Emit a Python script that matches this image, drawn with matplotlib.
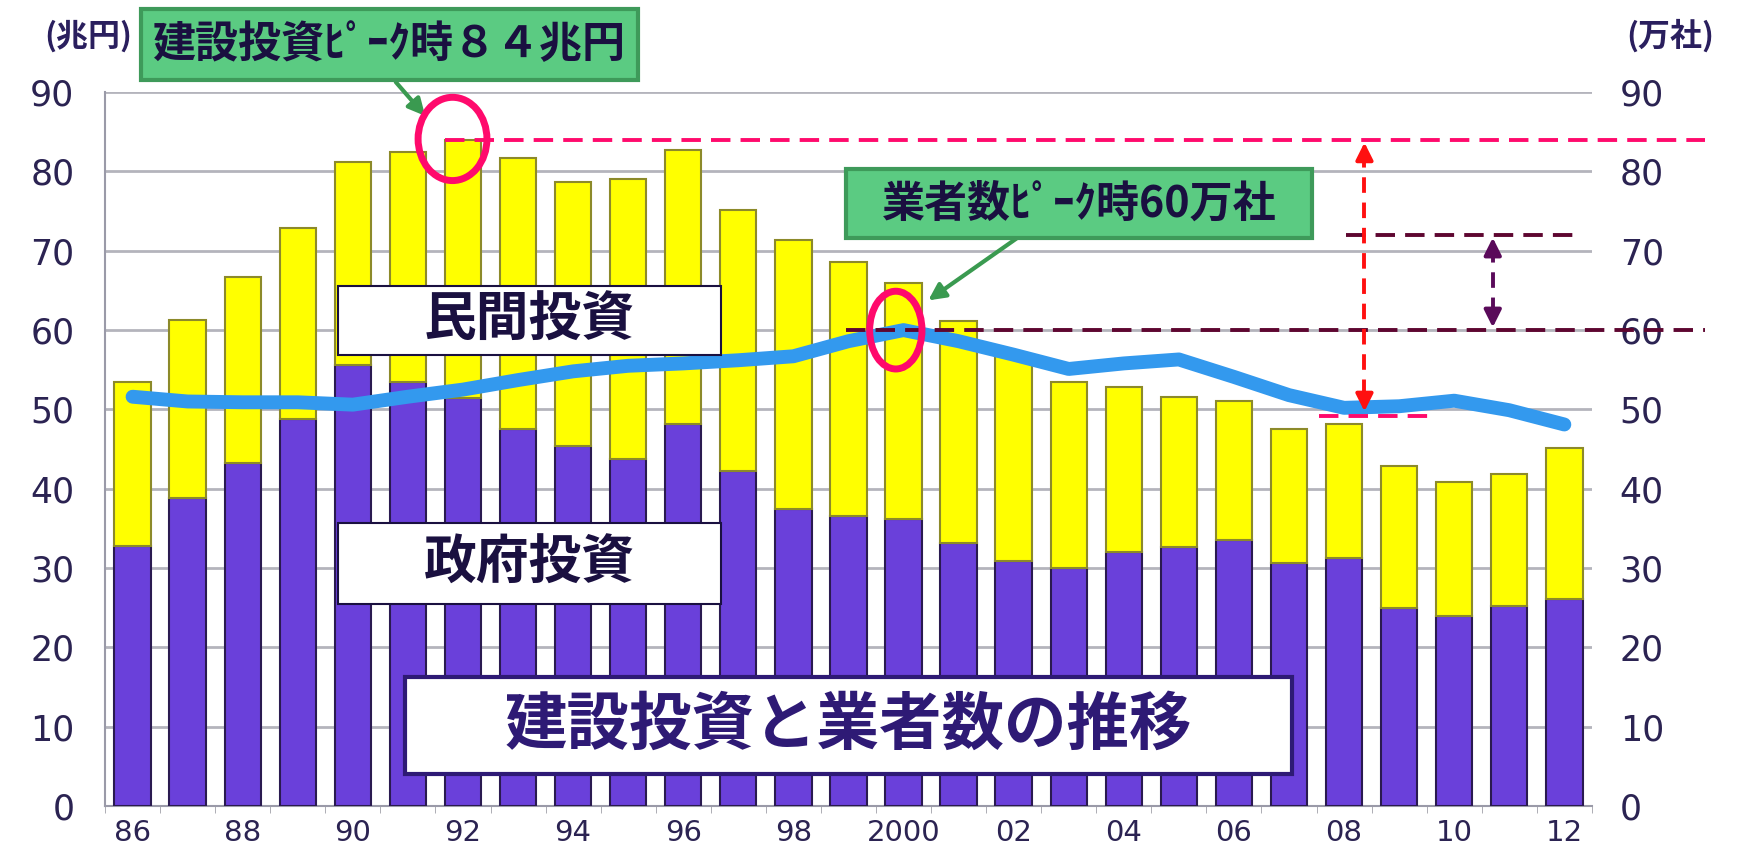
import numpy as np
import matplotlib
matplotlib.use("Agg")
from matplotlib import pyplot as plt
from matplotlib.patches import Ellipse, Rectangle

plt.rcParams['font.family'] = ['Noto Sans CJK JP', 'DejaVu Sans']

# ---- data ----
years = ['86', '87', '88', '89', '90', '91', '92', '93', '94', '95', '96', '97', '98', '99',
         '2000', '01', '02', '03', '04', '05', '06', '07', '08', '09', '10', '11', '12']
total_invest = [53.5, 61.3, 66.7, 72.9, 81.2, 82.4, 84.0, 81.7, 78.7, 79.0, 82.7, 75.2, 71.4,
                68.6, 66.0, 61.2, 56.7, 53.5, 52.8, 51.6, 51.1, 47.5, 48.1, 42.9, 40.9, 41.9, 45.1]
gov_invest = [32.8, 38.8, 43.2, 48.8, 55.6, 53.5, 51.5, 47.5, 45.4, 43.7, 48.1, 42.2, 37.5,
              36.6, 36.2, 33.1, 30.9, 30.0, 32.0, 32.7, 33.5, 30.7, 31.3, 25.0, 23.9, 25.2, 26.1]
companies = [51.6, 51.0, 50.9, 50.9, 50.6, 51.6, 52.5, 53.7, 54.8, 55.5, 55.8, 56.2, 56.7,
             58.6, 60.0, 58.6, 56.9, 55.1, 55.8, 56.3, 54.1, 51.8, 50.2, 50.4, 51.1, 49.9, 48.1]
private_invest = [t - g for t, g in zip(total_invest, gov_invest)]
yticks = [0, 10, 20, 30, 40, 50, 60, 70, 80, 90]

navy = '#2B2352'
purple = '#6A40DA'
yellow = '#FFFF00'
pink = '#FF0A6C'
maroon = '#5E0630'

fig = plt.figure(figsize=(17.39, 8.58), dpi=100)
ax = fig.add_axes([0.0604, 0.0606, 0.855, 0.832])
x = np.arange(len(years))

ax.bar(x, gov_invest, width=0.66, color=purple, edgecolor='#2A1A50', linewidth=1.5, zorder=3)
ax.bar(x, private_invest, bottom=gov_invest, width=0.66, color=yellow,
       edgecolor='#8C8A2A', linewidth=1.5, zorder=3)

ax.set_xlim(-0.5, len(years) - 0.5)
ax.set_ylim(0, 90)
ax.set_yticks(yticks)
ax.grid(axis='y', color='#B4B4BC', linewidth=2, zorder=0)
ax.set_xticks(x[::2])
ax.set_xticklabels(years[::2])
ax.set_xticks(np.arange(-0.5, len(years), 1), minor=True)
ax.tick_params(axis='x', which='major', length=0, pad=9, labelsize=21, labelcolor=navy)
ax.tick_params(axis='x', which='minor', length=5, color='#A0A0A8')
ax.tick_params(axis='y', length=0, pad=22, labelsize=25, labelcolor=navy)
for lab in ax.get_xticklabels() + ax.get_yticklabels():
    lab.set_family('DejaVu Sans')
for s in ['top', 'right']:
    ax.spines[s].set_visible(False)
ax.spines['left'].set_color('#9A9AA8')
ax.spines['bottom'].set_color('#9A9AA8')
ax.spines['left'].set_linewidth(1.5)
ax.spines['bottom'].set_linewidth(1.5)

ax2 = ax.twinx()
ax2.set_ylim(0, 90)
ax2.set_yticks(yticks)
ax2.tick_params(axis='y', length=0, pad=20, labelsize=25, labelcolor=navy)
for lab in ax2.get_yticklabels():
    lab.set_family('DejaVu Sans')
for s in ax2.spines.values():
    s.set_visible(False)
ax2.plot(x, companies, color='#3399EE', linewidth=10, solid_capstyle='round', zorder=4)

# ---- reference lines ----
dash = (0, (5, 2.6))
ax2.plot([5.67, 28.56], [84, 84], color=pink, lw=2.8, ls=dash, clip_on=False, zorder=6)
ax2.plot([12.95, 28.56], [60, 60], color=maroon, lw=2.8, ls=dash, clip_on=False, zorder=6)
ax2.plot([22.03, 26.25], [72, 72], color=maroon, lw=2.8, ls=dash, clip_on=False, zorder=6)
ax2.plot([21.54, 23.55], [49.2, 49.2], color=pink, lw=2.8, ls=dash, clip_on=False, zorder=6)

ax2.plot([22.37, 22.37], [82.5, 51], color='#FF1010', lw=2.8, ls=(0, (4, 2.5)), zorder=6)
ax2.annotate('', xy=(22.37, 84), xytext=(22.37, 81.5),
             arrowprops=dict(arrowstyle='-|>', color='#FF1010', lw=2.8, mutation_scale=26), zorder=6)
ax2.annotate('', xy=(22.37, 49.4), xytext=(22.37, 52),
             arrowprops=dict(arrowstyle='-|>', color='#FF1010', lw=2.8, mutation_scale=26), zorder=6)
ax2.plot([24.7, 24.7], [70.5, 61.5], color='#5A0A5A', lw=2.8, ls=(0, (4, 2.5)), zorder=6)
ax2.annotate('', xy=(24.7, 72), xytext=(24.7, 69.5),
             arrowprops=dict(arrowstyle='-|>', color='#5A0A5A', lw=2.8, mutation_scale=26), zorder=6)
ax2.annotate('', xy=(24.7, 60), xytext=(24.7, 62.5),
             arrowprops=dict(arrowstyle='-|>', color='#5A0A5A', lw=2.8, mutation_scale=26), zorder=6)

# ---- peak circles ----
ax2.add_patch(Ellipse((5.81, 84.1), 1.25, 10.5, fill=False, edgecolor=pink, lw=5, zorder=7,
                      clip_on=False))
ax2.add_patch(Ellipse((13.86, 60.0), 0.95, 9.8, fill=False, edgecolor=pink, lw=5, zorder=7,
                      clip_on=False))

# ---- boxes ----
W, H = 1739, 858


def box(x0, y0, x1, y1, text, size, face, edge, tcolor, lw):
    # pixel coords from top-left
    r = Rectangle((x0 / W, 1 - y1 / H), (x1 - x0) / W, (y1 - y0) / H, transform=fig.transFigure,
                  facecolor=face, edgecolor=edge, lw=lw, zorder=10)
    fig.patches.append(r)
    fig.text((x0 + x1) / 2 / W, 1 - (y0 + y1) / 2 / H, text, ha='center', va='center',
             fontsize=size, fontweight='bold', color=tcolor, zorder=11)


box(141, 9, 638, 80, '建設投資ﾋﾟｰｸ時８４兆円', 31, '#5BCB82', '#3E9A5A', '#1A1040', 3)
box(846, 169, 1312, 238, '業者数ﾋﾟｰｸ時60万社', 31, '#5BCB82', '#3E9A5A', '#1A1040', 3)
box(338, 286, 721, 355, '民間投資', 38, 'white', '#1A1040', '#1A1040', 1.5)
box(338, 523, 721, 604, '政府投資', 38, 'white', '#1A1040', '#1A1040', 1.5)
box(405, 677, 1292, 774, '建設投資と業者数の推移', 45, 'white', '#2E1A75', '#2E1A75', 3)

# ---- callout arrows ----
fig_arrow = dict(arrowstyle='-|>', color='#3A9A50', lw=3, mutation_scale=25)
ax.annotate('', xy=(427, H - 118), xytext=(394, H - 80), xycoords='figure pixels',
            textcoords='figure pixels', arrowprops=fig_arrow)
ax.annotate('', xy=(926, H - 302), xytext=(1020, H - 236), xycoords='figure pixels',
            textcoords='figure pixels', arrowprops=fig_arrow)

# ---- unit labels ----
fig.text(88 / W, 1 - 36 / H, '(兆円)', ha='center', va='center', fontsize=23,
         fontweight='bold', color='#2A1F5E')
fig.text(1670 / W, 1 - 36 / H, '(万社)', ha='center', va='center', fontsize=23,
         fontweight='bold', color='#2A1F5E')

fig.savefig('out.png', dpi=100)
